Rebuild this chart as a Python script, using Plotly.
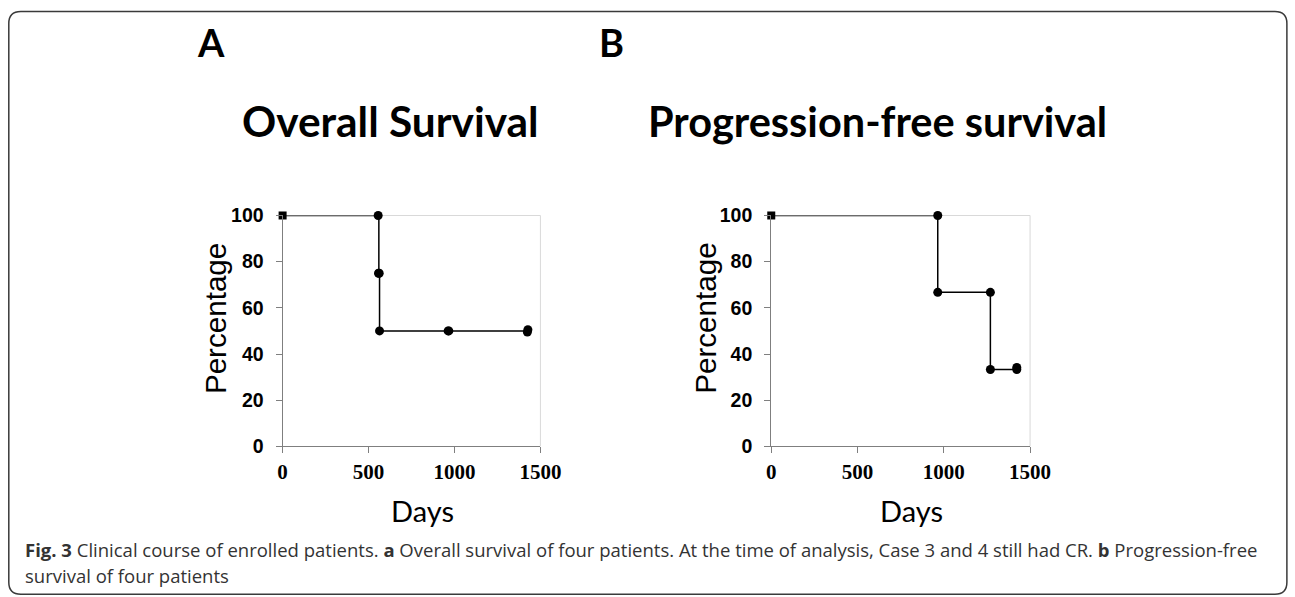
import plotly.graph_objects as go

FW, FH = 1320, 619

# ---- data ----
os_step_days = [0, 556, 560, 564, 1426]
os_step_pct = [100, 100, 75, 50, 50]
os_mark_days = [556, 558, 562, 564, 963, 967, 1424, 1427]
os_mark_pct = [100, 75, 75, 50, 50, 50, 49.5, 50.5]

pfs_step_days = [0, 965, 1270, 1423]
pfs_step_pct = [100, 66.7, 33.3, 33.3]
pfs_mark_days = [965, 965, 1270, 1270, 1423, 1423]
pfs_mark_pct = [100, 66.7, 66.7, 33.3, 33.3, 34.2]

start_days = [0]
start_pct = [100]

x_ticks = [0, 500, 1000, 1500]
y_ticks = [0, 20, 40, 60, 80, 100]

panel_letters = ["A", "B"]
panel_titles = ["Overall Survival", "Progression-free survival"]
x_title = "Days"
y_title = "Percentage"

# mapping from target-picture pixels to page pixels (photograph compensation)
SX, OX, SY, OY = 0.981, 5.2, 0.965, 10.4


def px(x):
    return ((x - OX) / SX) / FW


def py(y):
    return 1 - ((y - OY) / SY) / FH


# plot area geometry in target-picture pixels
A_x0, A_x1 = 283, 541
B_x0, B_x1 = 772, 1031
Y_top, Y_bot = 215, 446

fig = go.Figure()

def add_panel(xa, ya, sd, sp, md, mp):
    fig.add_trace(go.Scatter(x=sd, y=sp, mode="lines", line=dict(color="black", width=1.5, shape="hv"),
                             xaxis=xa, yaxis=ya, showlegend=False, cliponaxis=False, hoverinfo="skip"))
    fig.add_trace(go.Scatter(x=md, y=mp, mode="markers", marker=dict(color="black", size=9, symbol="circle"),
                             xaxis=xa, yaxis=ya, showlegend=False, cliponaxis=False))
    fig.add_trace(go.Scatter(x=start_days, y=start_pct, mode="markers",
                             marker=dict(color="black", size=8, symbol="square"),
                             xaxis=xa, yaxis=ya, showlegend=False, cliponaxis=False))

add_panel("x", "y", os_step_days, os_step_pct, os_mark_days, os_mark_pct)
add_panel("x2", "y2", pfs_step_days, pfs_step_pct, pfs_mark_days, pfs_mark_pct)

xaxis_common = dict(range=[0, 1500], tickvals=x_ticks, ticks="outside", ticklen=6, tickwidth=1,
                    tickcolor="#7f7f7f", showline=True, linecolor="#7f7f7f", linewidth=1.2,
                    showgrid=False, zeroline=False, ticklabelstandoff=0,
                    tickfont=dict(family="Liberation Serif, Times New Roman, serif", size=21,
                                  color="black", weight="bold"))
yaxis_common = dict(range=[0, 100], tickvals=y_ticks, ticks="outside", ticklen=6, tickwidth=1,
                    tickcolor="#7f7f7f", showline=True, linecolor="#7f7f7f", linewidth=1.2,
                    showgrid=False, zeroline=False, ticklabelstandoff=8,
                    tickfont=dict(family="Liberation Sans, Arial, sans-serif", size=19.5,
                                  color="black", weight="bold"))

yd = [py(Y_bot), py(Y_top)]
fig.update_layout(
    width=FW, height=FH, autosize=False,
    margin=dict(l=0, r=0, t=0, b=0),
    paper_bgcolor="white", plot_bgcolor="white",
    xaxis=dict(domain=[px(A_x0), px(A_x1)], anchor="y", **xaxis_common),
    yaxis=dict(domain=yd, anchor="x", **yaxis_common),
    xaxis2=dict(domain=[px(B_x0), px(B_x1)], anchor="y2", **xaxis_common),
    yaxis2=dict(domain=yd, anchor="x2", **yaxis_common),
)

shapes = []
for x0, x1 in [(A_x0, A_x1), (B_x0, B_x1)]:
    shapes.append(dict(type="line", xref="paper", yref="paper", x0=px(x0), x1=px(x1), y0=py(Y_top), y1=py(Y_top),
                       line=dict(color="#d9d9d9", width=1), layer="below"))
    shapes.append(dict(type="line", xref="paper", yref="paper", x0=px(x1), x1=px(x1), y0=py(Y_top), y1=py(Y_bot),
                       line=dict(color="#d9d9d9", width=1), layer="below"))

# outer rounded border
L, T, R, B, r = 9, 11, 1288, 594, 12
path = (f"M {px(L + r)},{py(T)} L {px(R - r)},{py(T)} Q {px(R)},{py(T)} {px(R)},{py(T + r)} "
        f"L {px(R)},{py(B - r)} Q {px(R)},{py(B)} {px(R - r)},{py(B)} "
        f"L {px(L + r)},{py(B)} Q {px(L)},{py(B)} {px(L)},{py(B - r)} "
        f"L {px(L)},{py(T + r)} Q {px(L)},{py(T)} {px(L + r)},{py(T)} Z")
shapes.append(dict(type="path", xref="paper", yref="paper", path=path, line=dict(color="#3a3a3a", width=1.5)))
fig.update_layout(shapes=shapes)

ann = []
def text(x, y, s, size, family, bold=False, color="black", xanchor="center", angle=0):
    ann.append(dict(x=px(x), y=py(y), xref="paper", yref="paper", text=f"<b>{s}</b>" if bold else s,
                    showarrow=False, xanchor=xanchor, yanchor="middle", textangle=angle,
                    font=dict(size=size, family=family, color=color)))

TF = "Lato, Open Sans, sans-serif"
text(211, 41, panel_letters[0], 38, TF, bold=True)
text(612, 41, panel_letters[1], 38, TF, bold=True)
text(391, 120, panel_titles[0], 42.4, TF, bold=True)
text(878, 120, panel_titles[1], 41.5, TF, bold=True)
text(423, 510, x_title, 29, TF)
text(912, 510, x_title, 29, TF)
text(216, 318, y_title, 29.6, "Liberation Sans, Arial, sans-serif", angle=-90)
text(706, 318, y_title, 29.6, "Liberation Sans, Arial, sans-serif", angle=-90)

CF = "Open Sans, sans-serif"
text(23, 549, "<b>Fig. 3</b> Clinical course of enrolled patients. <b>a</b> Overall survival of four patients. "
              "At the time of analysis, Case 3 and 4 still had CR. <b>b</b> Progression-free",
     18.5, CF, color="#333333", xanchor="left")
text(23, 575, "survival of four patients", 18.5, CF, color="#333333", xanchor="left")
fig.update_layout(annotations=ann)

fig.write_html("out.html", config={"displayModeBar": False},
               post_script="document.body.style.margin='0';document.body.style.overflow='hidden';")
